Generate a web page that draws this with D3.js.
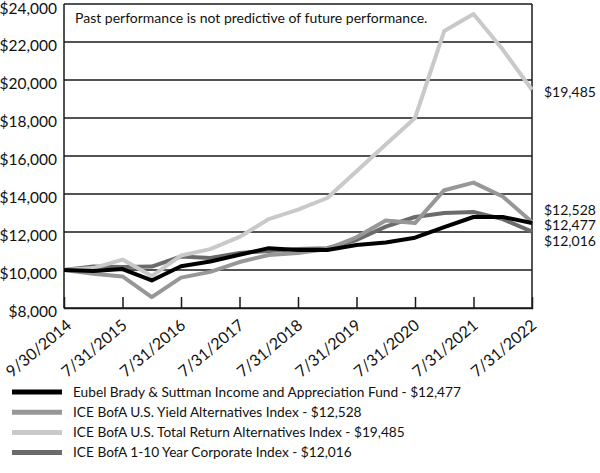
<!DOCTYPE html>
<html>
<head>
<meta charset="utf-8">
<script src="https://cdn.jsdelivr.net/npm/d3@7"></script>
<style>
  body { margin: 0; background: #fff; }
  text { font-family: Lato, "Open Sans", sans-serif; fill: #111; }
</style>
</head>
<body>
<div id="chart"></div>
<script>
// x categories (semi-annual points, only every other one gets a label)
var dates = ["9/30/2014", "", "7/31/2015", "", "7/31/2016", "", "7/31/2017", "", "7/31/2018",
             "", "7/31/2019", "", "7/31/2020", "", "7/31/2021", "", "7/31/2022"];

var fund =      [10000, 9950, 10050, 9450, 10200, 10450, 10800, 11150, 11050, 11050, 11320, 11450, 11700, 12260, 12790, 12790, 12477];
var yieldAlt =  [10000, 9800, 9660, 8570, 9600, 9900, 10420, 10790, 10900, 11100, 11720, 12600, 12470, 14200, 14600, 13870, 12528];
var totalAlt =  [10000, 10100, 10550, 9680, 10760, 11100, 11740, 12680, 13180, 13790, 15200, 16600, 18000, 22580, 23470, 21600, 19485];
var corp =      [10000, 10180, 10160, 10180, 10710, 10630, 10900, 11000, 11100, 11150, 11580, 12280, 12790, 13000, 13050, 12680, 12016];

var yTicks = [8000, 10000, 12000, 14000, 16000, 18000, 20000, 22000, 24000];

var seriesNames = ["Eubel Brady & Suttman Income and Appreciation Fund - $12,477",
                   "ICE BofA U.S. Yield Alternatives Index - $12,528",
                   "ICE BofA U.S. Total Return Alternatives Index - $19,485",
                   "ICE BofA 1-10 Year Corporate Index - $12,016"];
var endLabels = ["$12,477", "$12,528", "$19,485", "$12,016"];

var series = [
    {name: seriesNames[0], values: fund, color: "#000000", end: endLabels[0]},
    {name: seriesNames[1], values: yieldAlt, color: "#979797", end: endLabels[1]},
    {name: seriesNames[2], values: totalAlt, color: "#c9c9c9", end: endLabels[2]},
    {name: seriesNames[3], values: corp, color: "#6b6b6b", end: endLabels[3]}
];

var width = 600, height = 473;
// note: "top" is taken by window.top, so plot edges get their own names
var plotLeft = 64, plotRight = 532, plotTop = 4, plotBottom = 308;

var svg = d3.select("#chart").append("svg")
    .attr("width", width)
    .attr("height", height);

var x = d3.scalePoint().domain(d3.range(dates.length)).range([plotLeft, plotRight]);
var y = d3.scaleLinear().domain([8000, 24000]).range([plotBottom, plotTop]);

// gridlines
svg.append("g").selectAll("line")
    .data(yTicks)
    .enter().append("line")
    .attr("x1", plotLeft).attr("x2", plotRight)
    .attr("y1", d => y(d)).attr("y2", d => y(d))
    .attr("stroke", "#1a1a1a")
    .attr("stroke-width", 1.3);

// frame sides
svg.append("line").attr("x1", plotLeft).attr("x2", plotLeft).attr("y1", plotTop).attr("y2", plotBottom)
    .attr("stroke", "#1a1a1a").attr("stroke-width", 1.5);
svg.append("line").attr("x1", plotRight).attr("x2", plotRight).attr("y1", plotTop).attr("y2", plotBottom)
    .attr("stroke", "#1a1a1a").attr("stroke-width", 1.5);

// y axis labels (sit a little below their gridline, like the original)
var yAxis = d3.axisLeft(y).tickValues(yTicks).tickSize(0).tickPadding(7)
    .tickFormat(d => "$" + d3.format(",")(d));
svg.append("g")
    .attr("transform", "translate(" + plotLeft + ",0)")
    .call(yAxis)
    .call(g => g.select(".domain").remove())
    .selectAll("text")
    .style("font-size", "15.5px")
    .attr("fill", "#111")
    .attr("y", d => d == 24000 ? 5 : 4);

// x axis, ticks point inward
var labelIdx = d3.range(dates.length).filter(i => dates[i] != "");
var xAxis = d3.axisBottom(x).tickValues(labelIdx).tickSize(-11).tickFormat(i => dates[i]);
var gx = svg.append("g")
    .attr("transform", "translate(0," + plotBottom + ")")
    .call(xAxis);
gx.select(".domain").attr("stroke", "#1a1a1a").attr("stroke-width", 1.5);
gx.selectAll(".tick line").attr("stroke", "#1a1a1a").attr("stroke-width", 1.5)
    .attr("display", (d, i) => (i == 0 || i == labelIdx.length - 1) ? "none" : null);
gx.selectAll(".tick text")
    .style("font-size", "16px")
    .attr("fill", "#111")
    .attr("text-anchor", "end")
    .attr("y", 0)
    .attr("dy", 0)
    // first label nudged right so it doesn't run off the left edge
    .attr("transform", (d, i) => "translate(" + (i == 0 ? 8 : 5) + ",19) rotate(-40)");

// lines
var line = d3.line()
    .x((d, i) => x(i))
    .y(d => y(d));

var drawOrder = [3, 1, 2, 0];
svg.append("g").selectAll("path")
    .data(drawOrder.map(k => series[k]))
    .enter().append("path")
    .attr("d", d => line(d.values))
    .attr("fill", "none")
    .attr("stroke", d => d.color)
    .attr("stroke-width", 4)
    .attr("stroke-linejoin", "round");

// end value labels
var endY = [225.5, 210, 92, 241];
svg.append("g").selectAll("text")
    .data(series)
    .enter().append("text")
    .attr("x", 544)
    .attr("y", (d, i) => endY[i])
    .attr("dy", "0.35em")
    .style("font-size", "14px")
    .text(d => d.end);

// note
svg.append("text")
    .attr("x", 75).attr("y", 23)
    .style("font-size", "14px")
    .text("Past performance is not predictive of future performance.");

// legend
var legend = svg.append("g").selectAll("g")
    .data(series)
    .enter().append("g")
    .attr("transform", (d, i) => "translate(12," + (392 + i * 20.2) + ")");
legend.append("line")
    .attr("x1", 0).attr("x2", 50)
    .attr("stroke", d => d.color)
    .attr("stroke-width", 5);
legend.append("text")
    .attr("x", 61).attr("dy", "0.35em")
    .style("font-size", "13.7px")
    .text(d => d.name);
</script>
</body>
</html>
